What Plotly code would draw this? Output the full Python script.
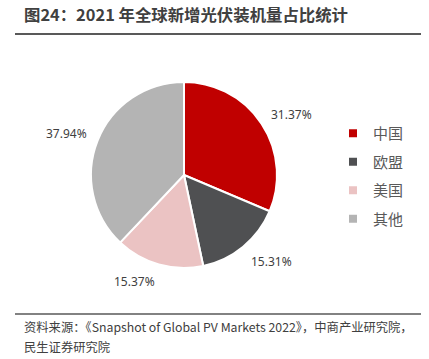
import math
import plotly.graph_objects as go

categories = ["中国", "欧盟", "美国", "其他"]
values = [31.37, 15.31, 15.37, 37.94]
text_labels = ["31.37%", "15.31%", "15.37%", "37.94%"]
colors = ["#C00000", "#4F5052", "#EBC3C3", "#B4B4B4"]

W, H = 429, 359


def fx(x):
    return x / W


def fy(y):
    return 1 - y / H


CX, CY, R = 184, 175, 93

fig = go.Figure()
fig.add_trace(go.Pie(
    labels=categories,
    values=values,
    textinfo="none",
    sort=False,
    direction="clockwise",
    rotation=0,
    marker=dict(colors=colors, line=dict(color="white", width=2)),
    domain=dict(x=[fx(CX - R), fx(CX + R)], y=[fy(CY + R), fy(CY - R)]),
    showlegend=False,
    hoverinfo="label+percent",
))

# legend entries
for i, (cat, col) in enumerate(zip(categories, colors)):
    fig.add_trace(go.Scatter(
        x=[None], y=[None], mode="markers", name=cat,
        marker=dict(symbol="square", size=8, color=col),
        legendgroup=f"g{i}", showlegend=True,
    ))

# value labels placed outside each slice, at its mid-angle
annotations = []
total = sum(values)
cum = 0.0
for v, t in zip(values, text_labels):
    mid = (cum + v / 2) / total * 2 * math.pi
    cum += v
    s, c = math.sin(mid), math.cos(mid)
    px = CX + (R + 10) * s
    py = CY - (R + 10) * c
    upper = c >= 0
    annotations.append(dict(
        text=t, xref="paper", yref="paper", x=fx(px), y=fy(py),
        xanchor="left" if s >= 0 else "right",
        yanchor="bottom" if upper else "top",
        yshift=-6 if upper else 2,
        showarrow=False, borderpad=0,
        font=dict(family="Noto Sans", size=12, color="#404040"),
    ))

annotations += [
    dict(text="<b>图24：2021 年全球新增光伏装机量占比统计</b>", xref="paper", yref="paper",
         x=fx(22), y=fy(14), xanchor="left", yanchor="middle", showarrow=False,
         font=dict(family="Noto Sans CJK SC", size=16.4, color="#404040")),
    dict(text="资料来源：《Snapshot of Global PV Markets 2022》，中商产业研究院，",
         xref="paper", yref="paper", x=fx(22), y=fy(327), xanchor="left",
         yanchor="middle", showarrow=False,
         font=dict(family="Noto Sans CJK SC", size=12.3, color="#404040")),
    dict(text="民生证券研究院",
         xref="paper", yref="paper", x=fx(22), y=fy(347), xanchor="left",
         yanchor="middle", showarrow=False,
         font=dict(family="Noto Sans CJK SC", size=12.3, color="#404040")),
]

rule_color = "#595959"
fig.update_layout(
    width=W, height=H,
    margin=dict(l=0, r=0, t=0, b=0),
    paper_bgcolor="white",
    plot_bgcolor="rgba(0,0,0,0)",
    xaxis=dict(visible=False),
    yaxis=dict(visible=False),
    legend=dict(
        x=fx(333), y=fy(117), xanchor="left", yanchor="top",
        font=dict(family="Noto Sans CJK SC", size=15, color="#595959"),
        tracegroupgap=6,
        bgcolor="rgba(0,0,0,0)",
    ),
    shapes=[
        dict(type="line", xref="paper", yref="paper", x0=fx(15), x1=fx(421),
             y0=fy(34), y1=fy(34), line=dict(color=rule_color, width=2)),
        dict(type="line", xref="paper", yref="paper", x0=fx(15), x1=fx(421),
             y0=fy(314), y1=fy(314), line=dict(color=rule_color, width=1.5)),
    ],
    annotations=annotations,
)

fig.write_html("out.html", config={"displayModeBar": False},
               post_script="document.body.style.margin='0px';")
